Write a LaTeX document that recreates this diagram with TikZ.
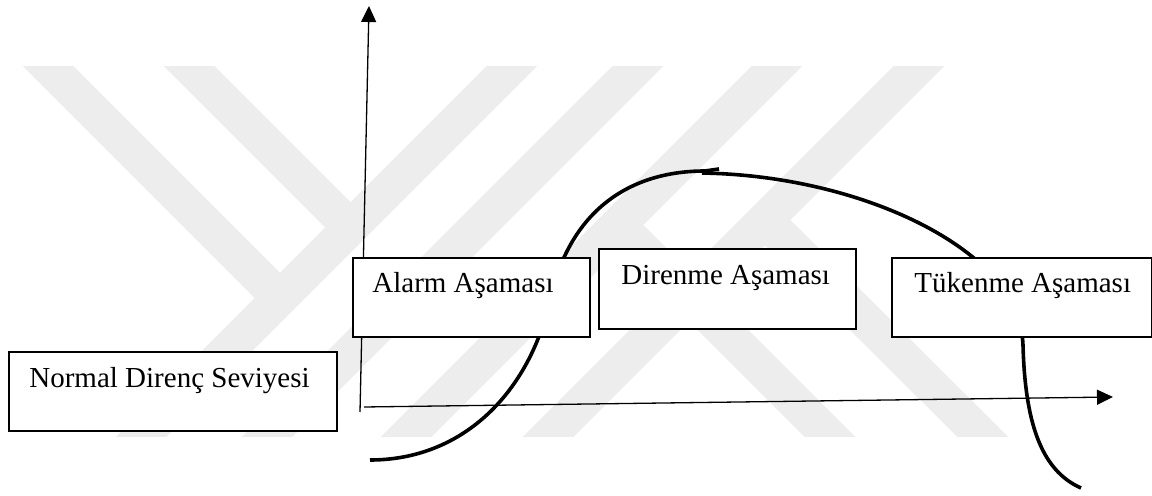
\documentclass[tikz,border=0pt]{standalone}
\usepackage{fontspec}
\setmainfont{Liberation Serif}
\usetikzlibrary{arrows.meta,calc}
\definecolor{wm}{gray}{0.93}
\begin{document}
\begin{tikzpicture}[x=0.5pt,y=-0.5pt,
  box/.style={draw=black,line width=1pt,fill=white,anchor=north west,inner sep=0pt},
  lbl/.style={anchor=base west,inner sep=0pt,font=\fontsize{14.5}{17}\selectfont},
  axis/.style={line width=0.65pt,-{Triangle[length=8pt,width=7.5pt]}},
  curve/.style={line width=1.8pt},
  band/.style={line width=18pt,draw=wm}]
\useasboundingbox (0,0) rectangle (1152,496);
% watermark
\begin{scope}
  \clip (0,67) rectangle (1152,437);
  \draw[band] (29,47) -- (280,298);
  \draw[band] (170,47) -- (350,227);
  \draw[band] (531,47) -- (121,457);
  \draw[band] (657,47) -- (247,457);
  \draw[band] (796,47) -- (386,457);
  \draw[band] (938,47) -- (528,457);
  \draw[band] (618,225) -- (850,457);
  \draw[band] (765,220) -- (1003,457);
\end{scope}
% axes
\coordinate (yb) at (360,412);
\coordinate (yt) at (369,6);
\coordinate (xb) at (364,407);
\coordinate (xe) at (1113,397);
\draw[axis] (yb) -- (yt);
\draw[axis] (xb) -- (xe);
% curves
\coordinate (c1s) at (370,460);
\coordinate (c1m) at (550,300);
\coordinate (c1e) at (705,171);
\coordinate (c1n) at (719,169);
\draw[curve] (c1s) .. controls (465,460) and (530,390) .. (c1m)
  .. controls (570,210) and (630,171) .. (c1e) -- (c1n);
\coordinate (c2s) at (702,173);
\coordinate (c2m) at (985,268);
\coordinate (c2b) at (1023,345);
\coordinate (c2e) at (1081,488);
\draw[curve] (c2s) .. controls (820,175) and (930,215) .. (c2m)
  .. controls (1010,295) and (1022,320) .. (c2b)
  .. controls (1025,420) and (1040,470) .. (c2e);
% boxes
\node[box,minimum width=164pt,minimum height=39.5pt] (normal) at (8,351) {};
\node[lbl] (tnormal) at ($(normal.north west)+(21,37)$) {Normal Direnç Seviyesi};
\node[box,minimum width=118.5pt,minimum height=39.5pt] (alarm) at (352,257) {};
\node[lbl] (talarm) at ($(alarm.north west)+(20,36)$) {Alarm Aşaması};
\node[box,minimum width=128.5pt,minimum height=40pt] (direnme) at (598,248) {};
\node[lbl] (tdirenme) at ($(direnme.north west)+(23,37)$) {Direnme Aşaması};
\node[box,minimum width=130pt,minimum height=39.5pt] (tukenme) at (891,257) {};
\node[lbl] (ttukenme) at ($(tukenme.north west)+(23,36)$) {Tükenme Aşaması};
\end{tikzpicture}
\end{document}
